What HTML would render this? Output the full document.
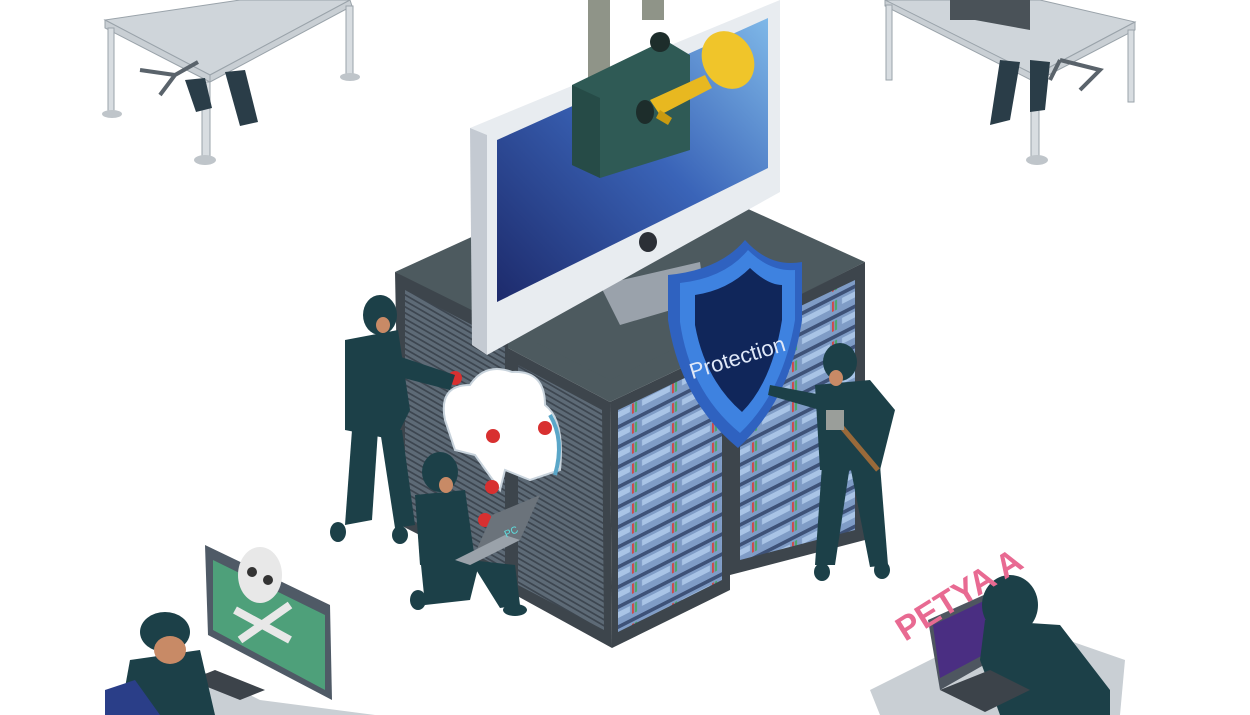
<!DOCTYPE html>
<html><head><meta charset="utf-8"><style>
html,body{margin:0;padding:0;background:#fff;width:1250px;height:715px;overflow:hidden}
svg{display:block}
</style></head><body>
<svg width="1250" height="715" viewBox="0 0 1250 715" xmlns="http://www.w3.org/2000/svg" font-family="Liberation Sans, sans-serif">
<defs>
<linearGradient id="scr" x1="0" y1="1" x2="1" y2="0">
<stop offset="0" stop-color="#1d2a6b"/><stop offset="0.55" stop-color="#3a64b8"/><stop offset="1" stop-color="#7fb8e8"/></linearGradient>
<pattern id="rackL" width="10" height="6" patternUnits="userSpaceOnUse" patternTransform="skewY(30)">
<rect width="10" height="6" fill="#5d6a76"/><rect y="0" width="10" height="2" fill="#3d4650"/></pattern>
<pattern id="rackR" width="40" height="20" patternUnits="userSpaceOnUse" patternTransform="skewY(-27)">
<rect width="40" height="20" fill="#7f9cc6"/><rect y="0" width="40" height="4" fill="#3e5278"/><rect x="2" y="7" width="28" height="6" fill="#a9c4e6"/><rect x="32" y="6" width="2" height="10" fill="#d04848"/><rect x="35" y="6" width="2" height="10" fill="#4aa868"/></pattern>
</defs>

<!-- top-left desk -->
<g fill="#c9cfd4" stroke="#9aa3aa" stroke-width="1">
<polygon points="105,20 210,75 350,0 240,0 " fill="#cfd5da"/>
<polygon points="105,20 210,75 210,82 105,28"/>
<polygon points="210,75 350,0 352,6 210,82"/>
<rect x="108" y="28" width="6" height="85" fill="#d8dde1"/>
<rect x="202" y="82" width="8" height="78" fill="#d8dde1"/>
<rect x="346" y="6" width="7" height="72" fill="#d8dde1"/>
</g>
<ellipse cx="112" cy="114" rx="10" ry="4" fill="#bfc5ca"/>
<ellipse cx="205" cy="160" rx="11" ry="5" fill="#bfc5ca"/>
<ellipse cx="350" cy="77" rx="10" ry="4" fill="#bfc5ca"/>
<g fill="#2a3d48"><polygon points="185,80 205,78 212,108 196,112"/><polygon points="225,72 245,70 258,122 240,126"/></g>
<path d="M140 70 L175 75 L160 95 M175 75 L198 62" stroke="#5a636b" stroke-width="4" fill="none"/>

<!-- top-right desk -->
<g fill="#c9cfd4" stroke="#9aa3aa" stroke-width="1">
<polygon points="885,0 1035,75 1135,22 1040,0" fill="#cfd5da"/>
<polygon points="885,0 1035,75 1035,82 885,6"/>
<polygon points="1035,75 1135,22 1135,30 1035,82"/>
<rect x="886" y="5" width="6" height="75" fill="#d8dde1"/>
<rect x="1031" y="82" width="8" height="78" fill="#d8dde1"/>
<rect x="1128" y="30" width="6" height="72" fill="#d8dde1"/>
</g>
<polygon points="950,0 1030,0 1030,30 975,20 950,20" fill="#4a5258"/>
<g fill="#2a3d48"><polygon points="1000,60 1020,62 1010,120 990,125"/><polygon points="1030,60 1050,62 1045,110 1030,112"/></g>
<path d="M1060 60 L1100 70 L1080 90 M1060 60 L1050 80" stroke="#5a636b" stroke-width="4" fill="none"/>
<ellipse cx="1037" cy="160" rx="11" ry="5" fill="#bfc5ca"/>

<!-- server block -->
<polygon points="395,272 640,160 865,262 610,392" fill="#4d5a5f"/>
<polygon points="395,272 508,328 512,582 400,525" fill="#3d454c"/>
<polygon points="405,290 505,342 505,570 405,518" fill="url(#rackL)"/>
<polygon points="508,348 610,402 612,648 510,592" fill="#3d454c"/>
<polygon points="518,365 602,410 604,630 518,585" fill="url(#rackL)"/>
<polygon points="610,402 730,345 730,590 612,648" fill="#3d454c"/>
<polygon points="618,410 722,360 722,580 618,632" fill="url(#rackR)"/>
<polygon points="730,330 865,262 865,540 730,575" fill="#3d454c"/>
<polygon points="740,335 855,280 855,530 740,560" fill="url(#rackR)"/>
<polygon points="508,328 610,380 730,322 730,345 610,402 508,348" fill="#4d5a5f"/>

<!-- monitor -->
<polygon points="600,285 700,262 705,300 620,325" fill="#9aa2ab"/>
<polygon points="470,128 780,0 780,192 487,355" fill="#e8ecf0"/>
<polygon points="470,128 487,135 487,355 472,345" fill="#c4cad2"/>
<polygon points="497,140 768,18 768,168 497,302" fill="url(#scr)"/>
<ellipse cx="648" cy="242" rx="9" ry="10" fill="#2b2f36"/>

<!-- lock -->
<rect x="588" y="0" width="22" height="85" fill="#8f9488"/>
<rect x="642" y="0" width="22" height="20" fill="#8f9488"/>
<polygon points="572,85 665,40 690,55 690,150 600,178 572,165" fill="#2f5a55"/>
<polygon points="572,85 600,98 600,178 572,165" fill="#264b47"/>
<circle cx="660" cy="42" r="10" fill="#1d2d2b"/>
<ellipse cx="645" cy="112" rx="9" ry="12" fill="#1d2d2b"/>
<!-- key -->
<polygon points="650,100 705,75 712,88 660,115" fill="#e8b820"/>
<ellipse cx="728" cy="60" rx="25" ry="30" fill="#f0c52a" transform="rotate(-30 728 60)"/>
<polygon points="660,110 672,118 668,125 656,118" fill="#c99a10"/>

<!-- shield -->
<path d="M668 320 L668 275 Q720 270 745 240 Q770 268 802 262 L802 320 Q790 400 738 448 Q680 400 668 320 Z" fill="#2f62c0"/>
<path d="M680 322 L680 283 Q725 278 748 250 Q770 272 795 270 L795 320 Q783 392 740 433 Q690 392 680 322 Z" fill="#3e82e0"/>
<path d="M695 325 L695 295 Q728 290 750 268 Q768 285 782 285 L782 320 Q772 382 742 412 Q705 380 695 325 Z" fill="#10265a"/>
<text x="738" y="365" fill="#dfe8f8" font-size="22" text-anchor="middle" transform="rotate(-17 738 360)" font-family="Liberation Sans Narrow, Liberation Sans, sans-serif">Protection</text>

<!-- cloud -->
<path d="M445 420 Q438 385 470 385 Q485 362 512 372 Q545 370 545 405 Q565 420 560 470 L530 480 L505 470 L500 490 L475 455 L455 450 Z" fill="#fff" stroke="#c8d3dc" stroke-width="2"/>
<path d="M550 415 Q565 440 555 475" stroke="#5aa6c8" stroke-width="4" fill="none"/>
<g fill="#d83030"><circle cx="455" cy="378" r="7"/><circle cx="493" cy="436" r="7"/><circle cx="545" cy="428" r="7"/><circle cx="492" cy="487" r="7"/><circle cx="485" cy="520" r="7"/></g>

<!-- hacker left standing -->
<g fill="#1c4048">
<ellipse cx="380" cy="315" rx="17" ry="20"/>
<polygon points="345,340 398,330 410,410 395,440 345,430"/>
<polygon points="395,355 455,375 450,390 392,375"/>
<polygon points="352,430 378,430 372,520 345,525"/>
<polygon points="380,430 402,430 415,525 395,528"/>
<ellipse cx="338" cy="532" rx="8" ry="10"/><ellipse cx="400" cy="535" rx="8" ry="9"/>
</g>
<ellipse cx="383" cy="325" rx="7" ry="8" fill="#c88a66"/>
<!-- crouching hacker -->
<g fill="#1c4048">
<ellipse cx="440" cy="472" rx="18" ry="20"/>
<polygon points="415,495 465,490 475,560 420,565"/>
<polygon points="420,555 480,560 470,600 425,605"/>
<polygon points="470,560 515,565 520,605 500,608"/>
<ellipse cx="418" cy="600" rx="8" ry="10"/><ellipse cx="515" cy="610" rx="12" ry="6"/>
</g>
<ellipse cx="446" cy="485" rx="7" ry="8" fill="#c88a66"/>
<polygon points="470,565 520,540 540,495 492,515" fill="#6b737b"/>
<polygon points="455,560 470,565 520,540 505,535" fill="#9aa2aa"/>
<text x="505" y="538" fill="#5ee0e0" font-size="10" transform="rotate(-25 505 535)">PC</text>
<!-- right hacker with hammer -->
<g fill="#1c4048">
<ellipse cx="840" cy="362" rx="17" ry="19"/>
<polygon points="815,385 870,380 895,410 880,470 820,470"/>
<polygon points="770,385 822,395 820,410 768,395"/>
<polygon points="822,465 850,465 835,565 815,565"/>
<polygon points="850,465 880,465 888,565 870,567"/>
<ellipse cx="822" cy="572" rx="8" ry="9"/><ellipse cx="882" cy="570" rx="8" ry="9"/>
</g>
<ellipse cx="836" cy="378" rx="7" ry="8" fill="#c88a66"/>
<line x1="840" y1="425" x2="878" y2="470" stroke="#9a6a3a" stroke-width="5"/>
<rect x="826" y="410" width="18" height="20" fill="#9a9e9a"/>

<!-- bottom-left desk -->
<polygon points="205,545 330,605 332,700 208,635" fill="#4f5a66"/>
<polygon points="213,560 325,615 325,690 213,630" fill="#4ea07a"/>
<g fill="#e8e8e8"><ellipse cx="260" cy="575" rx="22" ry="28"/><path d="M235 610 L290 640 M290 605 L240 640" stroke="#e8e8e8" stroke-width="8"/></g>
<circle cx="252" cy="572" r="5" fill="#333"/><circle cx="268" cy="580" r="5" fill="#333"/>
<polygon points="160,650 260,700 375,715 200,715 130,690" fill="#c9cfd4"/>
<polygon points="190,680 240,700 265,690 215,670" fill="#3c434a"/>
<g fill="#1c4048"><ellipse cx="165" cy="632" rx="25" ry="20"/><polygon points="130,660 200,650 215,715 120,715"/></g>
<ellipse cx="170" cy="650" rx="16" ry="14" fill="#c88a66"/>
<polygon points="105,690 135,680 160,715 105,715" fill="#2a3e88"/>

<!-- bottom-right desk -->
<polygon points="870,690 1010,620 1125,660 1120,715 880,715" fill="#c9cfd4"/>
<polygon points="928,620 995,590 1010,650 940,690" fill="#4e5660"/>
<polygon points="933,625 990,598 1002,645 940,678" fill="#4a2e82"/>
<g fill="#1c4048"><ellipse cx="1010" cy="605" rx="28" ry="30"/><polygon points="985,620 1060,625 1110,690 1110,715 1000,715 980,660"/></g>
<polygon points="940,690 990,670 1030,690 985,712" fill="#3c434a"/>
<text x="905" y="642" fill="#e86a92" font-size="34" font-weight="bold" transform="rotate(-32 905 642)" font-family="Liberation Sans Narrow, Liberation Sans, sans-serif">PETYA A</text>
</svg>
</body></html>
